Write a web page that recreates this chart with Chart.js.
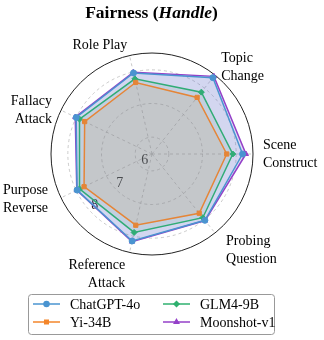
<!DOCTYPE html>
<html>
<head>
<meta charset="utf-8">
<script src="https://cdn.jsdelivr.net/npm/chart.js@4/dist/chart.umd.min.js"></script>
<style>
  html, body { margin: 0; padding: 0; background: #fff; }
  #wrap { position: relative; width: 324px; height: 340px; }
  #wrap canvas { position: absolute; left: 0; top: 0; }
  #title {
    position: absolute; left: 0; top: 2px; width: 303px; text-align: center;
    font: bold 17.5px "Liberation Serif", "Times New Roman", serif; line-height: 20px; color: #000;
  }
</style>
</head>
<body>
<div id="wrap">
  <canvas id="radar" width="324" height="340"></canvas>
  <div id="title">Fairness (<i>Handle</i>)</div>
</div>
<script>
// axes in clockwise order, starting at the right (3 o'clock)
const axes = [["Scene", "Construct"], ["Probing", "Question"], ["Reference", "Attack"],
  ["Purpose", "Reverse"], ["Fallacy", "Attack"], "Role Play", ["Topic", "Change"]];
const chatgpt = [8.19, 8.02, 8.15, 7.97, 8.00, 7.97, 8.40];
const yi34b = [7.72, 7.75, 7.67, 7.74, 7.72, 7.68, 7.65];
const glm4 = [7.90, 7.92, 7.89, 7.89, 7.89, 7.79, 7.85];
const moonshot = [8.29, 8.03, 8.17, 7.98, 8.03, 7.99, 8.45];
const tickValues = [6, 7, 8];
const rMin = 5.5, rMax = 8.5;

const serif = '"Liberation Serif", "Times New Roman", serif';

const makeSet = (label, data, color, fill, style) => ({
  label: label,
  data: data,
  borderColor: color,
  backgroundColor: fill,
  pointBackgroundColor: color,
  pointBorderColor: color,
  pointStyle: style,
  pointRadius: 3,
  pointBorderWidth: 1,
  borderWidth: 1.5,
  fill: "origin",
});

// tick numbers sit under the data, along a diagonal toward lower left
const rTickLabels = {
  id: "rTickLabels",
  beforeDatasetsDraw(chart) {
    const r = chart.scales.r;
    const ctx = chart.ctx;
    const a = (138 * Math.PI) / 180;
    ctx.save();
    ctx.font = "14px " + serif;
    ctx.fillStyle = "#222";
    ctx.textAlign = "center";
    ctx.textBaseline = "middle";
    tickValues.forEach((v) => {
      const d = r.getDistanceFromCenterForValue(v) - 7;
      ctx.fillText(String(v), r.xCenter + Math.cos(a) * d, r.yCenter + Math.sin(a) * d);
    });
    ctx.restore();
  },
};

const axisLabels = {
  id: "axisLabels",
  afterDraw(chart) {
    const r = chart.scales.r;
    const ctx = chart.ctx;
    ctx.save();
    ctx.font = "14px " + serif;
    ctx.fillStyle = "#000";
    ctx.textBaseline = "middle";
    chart.data.labels.forEach((lab, i) => {
      const lines = [].concat(lab);
      const dir = r.getPointPosition(i, 1);
      const sin = Math.sin(dir.angle), cos = Math.cos(dir.angle);
      const p = r.getPointPosition(i, r.drawingArea + 10 + 10 * Math.max(0, sin));
      let y = p.y;
      if (cos < -0.5) y = r.yCenter + (y - r.yCenter) * 0.91;
      if (sin > 0.6) y += 3;
      ctx.textAlign = cos > 0.2 ? "left" : cos < -0.2 ? "right" : "center";
      lines.forEach((t, k) => {
        ctx.fillText(t, p.x, y + (k - (lines.length - 1) / 2) * 18);
      });
    });
    ctx.restore();
  },
};

// two column legend, filled column by column
const boxLegend = {
  id: "boxLegend",
  afterDraw(chart) {
    const ctx = chart.ctx;
    const cols = [33, 163];
    const rows = [304, 322];
    ctx.save();
    ctx.strokeStyle = "#999";
    ctx.lineWidth = 1;
    ctx.beginPath();
    ctx.roundRect(28.5, 294.5, 246, 40, 3);
    ctx.stroke();
    ctx.font = "14px " + serif;
    ctx.textBaseline = "middle";
    ctx.textAlign = "left";
    chart.data.datasets.forEach((ds, i) => {
      const x = cols[Math.floor(i / 2)];
      const y = rows[i % 2];
      ctx.strokeStyle = ds.borderColor;
      ctx.fillStyle = ds.borderColor;
      ctx.lineWidth = 1.5;
      ctx.beginPath();
      ctx.moveTo(x, y);
      ctx.lineTo(x + 27, y);
      ctx.stroke();
      Chart.helpers.drawPoint(ctx, { pointStyle: ds.pointStyle, radius: 2.5, rotation: 0, borderWidth: 1 }, x + 13.5, y);
      ctx.fillStyle = "#000";
      ctx.fillText(ds.label, x + 37, y + 1);
    });
    ctx.restore();
  },
};

new Chart(document.getElementById("radar"), {
  type: "radar",
  data: {
    labels: axes,
    datasets: [
      makeSet("ChatGPT-4o", chatgpt, "#4a94d0", "rgba(70,130,200,0.08)", "circle"),
      makeSet("Yi-34B", yi34b, "#f3862b", "rgba(220,150,60,0.14)", "rect"),
      makeSet("GLM4-9B", glm4, "#2fb06f", "rgba(60,160,80,0.10)", "rectRot"),
      makeSet("Moonshot-v1", moonshot, "#9440c8", "rgba(110,100,200,0.22)", "triangle"),
    ],
  },
  options: {
    responsive: false,
    devicePixelRatio: 1,
    animation: false,
    layout: { padding: { left: 51, right: 70, top: 53, bottom: 84 } },
    plugins: { legend: { display: false }, tooltip: { enabled: false } },
    elements: { line: { tension: 0 } },
    scales: {
      r: {
        min: rMin,
        max: rMax,
        startAngle: 90,
        afterBuildTicks: (scale) => {
          scale.ticks = [rMin, ...tickValues, rMax].map((v) => ({ value: v }));
        },
        ticks: { display: false },
        pointLabels: { display: false },
        grid: {
          circular: true,
          color: (c) => (c.index === 4 ? "#222" : "#bdbdbd"),
          lineWidth: (c) => (c.index === 4 ? 1 : 0.8),
        },
        border: { dash: (c) => (c.index === 4 ? [] : [3, 3]) },
        angleLines: { color: "#bdbdbd", lineWidth: 0.8, borderDash: [3, 3] },
      },
    },
  },
  plugins: [rTickLabels, axisLabels, boxLegend],
});
</script>
</body>
</html>
